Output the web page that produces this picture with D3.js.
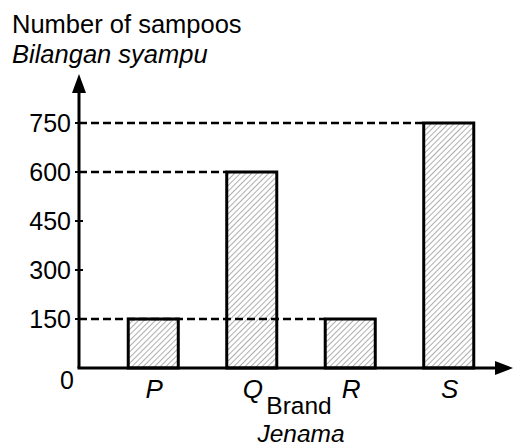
<!DOCTYPE html>
<html><head><meta charset="utf-8">
<script src="https://cdn.jsdelivr.net/npm/d3@7"></script>
<style>body{margin:0;background:#fff}svg{display:block}text{font-family:"Liberation Sans",Arial,sans-serif;fill:#000}</style>
</head><body>
<svg id="c" width="513" height="446"></svg>
<script>
const categories = ["P","Q","R","S"];
const values = [150, 600, 150, 750];
const yTicks = [0, 150, 300, 450, 600, 750];
const yTitle = ["Number of sampoos", "Bilangan syampu"];
const xTitle = ["Brand", "Jenama"];

const svg = d3.select("#c");
const x0 = 79, y0 = 368;
const x = d3.scaleBand().domain(categories).range([x0, 523]).paddingInner(0.492).paddingOuter(0.5);
const y = d3.scaleLinear().domain([0, 750]).range([y0, 123]);

const defs = svg.append("defs");
const pat = defs.append("pattern").attr("id","hatch").attr("patternUnits","userSpaceOnUse")
  .attr("width",4).attr("height",4).attr("patternTransform","rotate(45)");
pat.append("line").attr("x1",0).attr("y1",0).attr("x2",0).attr("y2",4).attr("stroke","#6a6a6a").attr("stroke-width",1.1);

// bars
svg.selectAll("rect.bar").data(categories).join("rect").attr("class","bar")
  .attr("x", d=>x(d)).attr("y", (d,i)=>y(values[i]))
  .attr("width", x.bandwidth()).attr("height",(d,i)=>y0-y(values[i]))
  .attr("fill","url(#hatch)").attr("stroke","#000").attr("stroke-width",3);

// dashed guides
const guides = [];
[...new Set(values)].forEach(v=>{
  let maxI = -1; values.forEach((vv,i)=>{ if(vv===v) maxI=i; });
  guides.push({v, x2: x(categories[maxI])});
});
svg.selectAll("line.guide").data(guides).join("line").attr("class","guide")
  .attr("x1",x0).attr("x2",d=>d.x2).attr("y1",d=>y(d.v)).attr("y2",d=>y(d.v))
  .attr("stroke","#000").attr("stroke-width",2.5).attr("stroke-dasharray","8,4");

// axes
svg.append("line").attr("x1",x0).attr("y1",y0).attr("x2",x0).attr("y2",90).attr("stroke","#000").attr("stroke-width",3);
svg.append("path").attr("d",`M${x0},74 L${x0-7},93 L${x0+7},93 Z`).attr("fill","#000");
svg.append("line").attr("x1",x0-1.5).attr("y1",y0).attr("x2",500).attr("y2",y0).attr("stroke","#000").attr("stroke-width",3);
svg.append("path").attr("d",`M513,${y0} L495,${y0-7} L495,${y0+7} Z`).attr("fill","#000");

// y ticks
const yt = svg.selectAll("g.yt").data(yTicks).join("g").attr("class","yt");
yt.filter(d=>d>0).append("line").attr("x1",x0-4).attr("x2",x0+4).attr("y1",d=>y(d)).attr("y2",d=>y(d)).attr("stroke","#000").attr("stroke-width",2);
yt.append("text").attr("x",d=>d===0?74:71).attr("y",d=>d===0?y(d)+21:y(d)+9)
  .attr("text-anchor","end").attr("font-size",25).text(d=>d);

// x labels
svg.selectAll("text.xl").data(categories).join("text").attr("class","xl")
  .attr("x",d=>x(d)+x.bandwidth()/2+1).attr("y",398).attr("text-anchor","middle")
  .attr("font-size",26).attr("font-style","italic").text(d=>d);

// titles
svg.append("text").attr("x",12).attr("y",33).attr("font-size",25.5).text(yTitle[0]);
svg.append("text").attr("x",12).attr("y",63).attr("font-size",25.5).attr("font-style","italic").text(yTitle[1]);
svg.append("text").attr("x",299).attr("y",414).attr("text-anchor","middle").attr("font-size",24.5).text(xTitle[0]);
svg.append("text").attr("x",301).attr("y",442).attr("text-anchor","middle").attr("font-size",24.5).attr("font-style","italic").text(xTitle[1]);
</script>
</body></html>
